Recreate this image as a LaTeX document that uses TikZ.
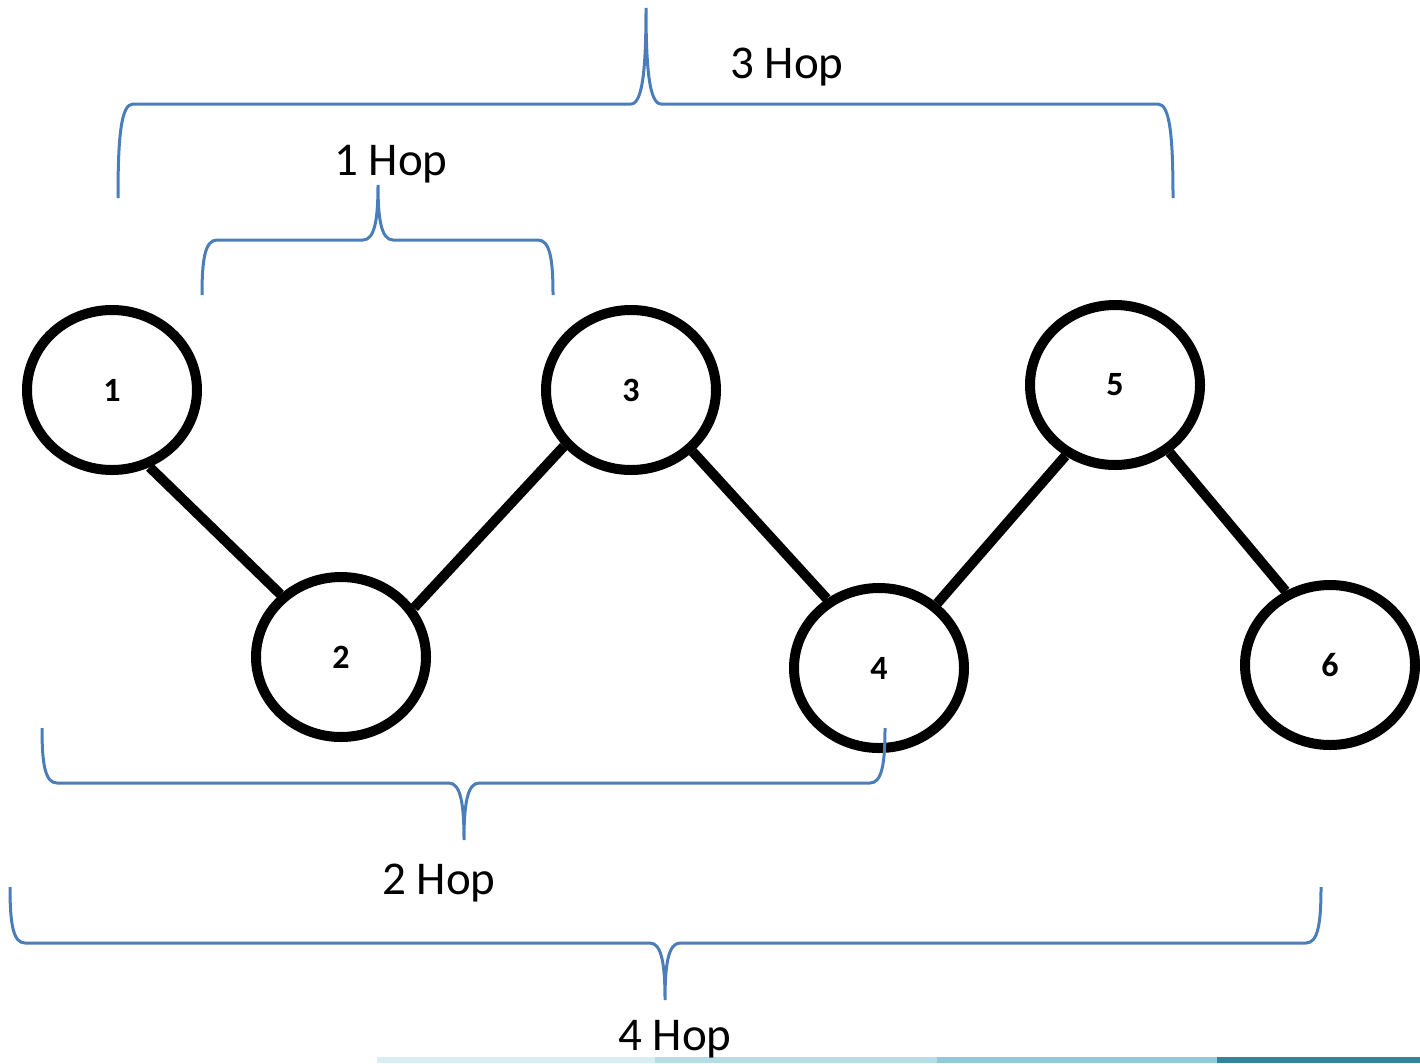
\documentclass[tikz,border=0pt]{standalone}
\usepackage{fontspec}
\setmainfont{Carlito}
\usetikzlibrary{shapes.geometric}
\definecolor{bracecol}{HTML}{4A7EBB}
\definecolor{barA}{HTML}{D8EEF3}
\definecolor{barB}{HTML}{B4DDE6}
\definecolor{barC}{HTML}{92C9D8}
\definecolor{barD}{HTML}{31849B}
\tikzset{
  circ/.style={draw, ellipse, line width=10pt, minimum width=170pt, minimum height=160pt, inner sep=0pt, font=\fontsize{34}{34}\selectfont\bfseries},
  link/.style={line width=10pt},
  brace/.style={draw=bracecol, line width=3pt},
  hoplabel/.style={font=\fontsize{47}{47}\selectfont, inner sep=0pt, anchor=base}
}
\newcommand\hopbrace[6]{% x1, x2, yend, yl, xt, ytip
  \draw[brace] (#1,#3) .. controls (#1,{#4+0.35*(#3-#4)}) and ({#1+3},#4) .. ({#1+15},#4)
    -- ({#5-15},#4) .. controls ({#5-3},#4) and (#5,{#4+0.4*(#6-#4)}) .. (#5,#6)
    .. controls (#5,{#4+0.4*(#6-#4)}) and ({#5+3},#4) .. ({#5+15},#4)
    -- ({#2-15},#4) .. controls ({#2-3},#4) and (#2,{#4+0.35*(#3-#4)}) .. (#2,#3);
}
\begin{document}
\begin{tikzpicture}[x=1pt,y=-1pt]
\useasboundingbox (0,0) rectangle (1420,1063);
% bottom bar
\fill[barA] (377,1057) rectangle (655,1063);
\fill[barB] (655,1057) rectangle (937,1063);
\fill[barC] (937,1057) rectangle (1217,1063);
\fill[barD] (1217,1057) rectangle (1420,1063);
% nodes
\node[circ] (n1) at (112,390) {1};
\node[circ] (n2) at (341,657) {2};
\node[circ] (n3) at (631,390) {3};
\node[circ] (n4) at (879,668) {4};
\node[circ] (n5) at (1115,385) {5};
\node[circ] (n6) at (1330,665) {6};
% links
\draw[link] (n1.-64) -- (n2.134);
\draw[link] (n2.34) -- (n3.220);
\draw[link] (n3.-45) -- (n4.127);
\draw[link] (n4.48) -- (n5.235);
\draw[link] (n5.-51) -- (n6.121);
% braces
\hopbrace{118}{1173}{198}{104}{646}{8}
\hopbrace{202}{553}{295}{240}{378}{185}
\hopbrace{42}{885}{728}{783}{464}{840}
\hopbrace{10}{1321}{887}{943}{665}{1000}
% labels
\node[hoplabel] (l3) at (787,78) {3 Hop};
\node[hoplabel] (l1) at (391,175) {1 Hop};
\node[hoplabel] (l2) at (439,894) {2 Hop};
\node[hoplabel] (l4) at (675,1050) {4 Hop};
\end{tikzpicture}
\end{document}
